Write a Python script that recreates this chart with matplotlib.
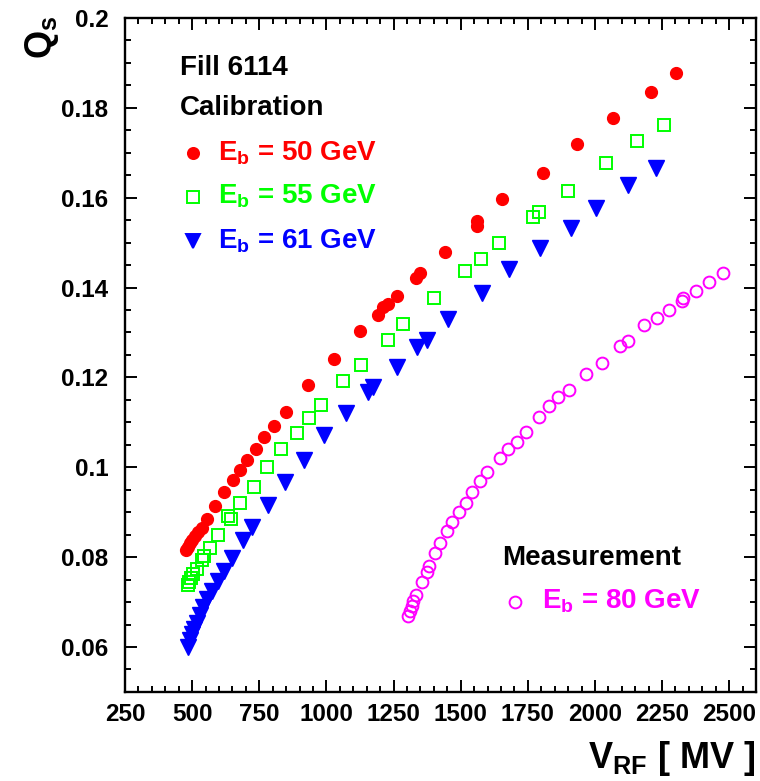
import numpy as np
import matplotlib
matplotlib.use("Agg")
import matplotlib.pyplot as plt
from matplotlib.ticker import MultipleLocator, FuncFormatter

# synchrotron tune Qs versus total RF voltage, fill 6114
v_50 = [477, 485, 492, 500, 511, 522, 537, 556, 585, 619, 652, 678, 705, 738, 768,
        805, 850, 932, 1029, 1126, 1193, 1211, 1230, 1263, 1334, 1349, 1442, 1561,
        1561, 1655, 1807, 1934, 2068, 2210, 2303]
qs_50 = [0.0816, 0.0822, 0.0831, 0.0838, 0.0847, 0.0856, 0.0864, 0.0884, 0.0913,
         0.0944, 0.0971, 0.0993, 0.1016, 0.1040, 0.1067, 0.1091, 0.1122, 0.1184,
         0.1242, 0.1304, 0.1340, 0.1356, 0.1364, 0.1382, 0.1422, 0.1433, 0.1480,
         0.1538, 0.1549, 0.1598, 0.1656, 0.1720, 0.1778, 0.1836, 0.1878]

v_55 = [485, 488, 496, 503, 518, 537, 544, 567, 597, 634, 645, 678, 731, 779, 831,
        891, 936, 980, 1062, 1129, 1230, 1286, 1401, 1517, 1576, 1643, 1770, 1792,
        1900, 2042, 2158, 2258]
qs_55 = [0.0738, 0.0744, 0.0753, 0.0762, 0.0773, 0.0793, 0.0802, 0.0820, 0.0849,
         0.0891, 0.0884, 0.0920, 0.0956, 0.1000, 0.1040, 0.1076, 0.1109, 0.1138,
         0.1191, 0.1227, 0.1284, 0.1318, 0.1376, 0.1436, 0.1464, 0.1500, 0.1558,
         0.1569, 0.1616, 0.1678, 0.1727, 0.1762]

v_61 = [485, 492, 500, 507, 518, 529, 541, 556, 574, 597, 619, 649, 690, 723, 783,
        846, 917, 991, 1073, 1155, 1174, 1263, 1338, 1375, 1453, 1580, 1681, 1796,
        1912, 2005, 2124, 2228]
qs_61 = [0.0600, 0.0616, 0.0629, 0.0640, 0.0653, 0.0671, 0.0689, 0.0707, 0.0724,
         0.0747, 0.0769, 0.0798, 0.0838, 0.0867, 0.0916, 0.0967, 0.1016, 0.1071,
         0.1120, 0.1167, 0.1178, 0.1224, 0.1267, 0.1284, 0.1329, 0.1389, 0.1442,
         0.1489, 0.1533, 0.1578, 0.1629, 0.1667]

v_80 = [1304, 1312, 1319, 1323, 1334, 1357, 1375, 1383, 1405, 1424, 1450, 1468,
        1494, 1520, 1543, 1573, 1599, 1647, 1677, 1711, 1744, 1793, 1830, 1863,
        1904, 1968, 2027, 2094, 2124, 2184, 2232, 2277, 2325, 2329, 2377, 2426, 2478]
qs_80 = [0.0669, 0.0680, 0.0691, 0.0702, 0.0716, 0.0744, 0.0767, 0.0780, 0.0809,
         0.0831, 0.0858, 0.0878, 0.0900, 0.0920, 0.0944, 0.0969, 0.0989, 0.1020,
         0.1040, 0.1056, 0.1078, 0.1113, 0.1136, 0.1156, 0.1171, 0.1207, 0.1233,
         0.1269, 0.1282, 0.1316, 0.1333, 0.1351, 0.1369, 0.1376, 0.1393, 0.1413,
         0.1433]

plt.rcParams['font.family'] = 'Liberation Sans'
plt.rcParams['font.weight'] = 'bold'
plt.rcParams['mathtext.fontset'] = 'custom'
plt.rcParams['mathtext.rm'] = 'Liberation Sans:bold'
plt.rcParams['mathtext.it'] = 'Liberation Sans:bold'
plt.rcParams['mathtext.bf'] = 'Liberation Sans:bold'

fig = plt.figure(figsize=(7.6, 7.81), dpi=100)
ax = fig.add_axes([0.1645, 0.114, 0.8303, 0.863])

ax.plot(v_50, qs_50, 'o', color='#ff0000', ms=8.5, mec='#ff0000', ls='none')
ax.plot(v_55, qs_55, 's', mfc='none', mec='#00ff00', ms=8, mew=1.4, ls='none')
ax.plot(v_61, qs_61, 'v', color='#0000ff', ms=11, ls='none')
ax.plot(v_80, qs_80, 'o', mfc='none', mec='#ff00ff', ms=8.5, mew=1.4, ls='none')

ax.set_xlim(250, 2600)
ax.set_ylim(0.05, 0.2)
ax.xaxis.set_major_locator(MultipleLocator(250))
ax.xaxis.set_minor_locator(MultipleLocator(50))
ax.yaxis.set_major_locator(MultipleLocator(0.02))
ax.yaxis.set_minor_locator(MultipleLocator(0.005))
ax.xaxis.set_major_formatter(FuncFormatter(lambda v, p: '%d' % round(v) if v <= 2500 else ''))
ax.yaxis.set_major_formatter(FuncFormatter(lambda v, p: '%g' % round(v, 3) if v > 0.055 else ''))

ax.tick_params(which='both', direction='in', top=True, right=True, width=1.4)
ax.tick_params(which='major', length=8.6, labelsize=17.5)
ax.tick_params(which='minor', length=4.3)
ax.tick_params(axis='x', pad=8)
ax.tick_params(axis='y', pad=12)
for s in ax.spines.values():
    s.set_linewidth(1.7)

fs = 20
ax.text(0.087, 0.926, 'Fill 6114', transform=ax.transAxes, fontsize=fs, va='center')
ax.text(0.087, 0.866, 'Calibration', transform=ax.transAxes, fontsize=fs, va='center')

rows = [(0.800, 'o', '#ff0000', True, '50'),
        (0.735, 's', '#00ff00', False, '55'),
        (0.669, 'v', '#0000ff', True, '61')]
for y, m, c, filled, e in rows:
    ax.plot([0.108], [y], m, transform=ax.transAxes, clip_on=False,
            mfc=c if filled else 'none', mec=c, ms=8 if m != 'v' else 9.5, mew=1.4)
    ax.text(0.147, y, r'$\mathrm{E_b}$ = %s GeV' % e, transform=ax.transAxes,
            fontsize=fs, color=c, va='center')

ax.text(0.597, 0.199, 'Measurement', transform=ax.transAxes, fontsize=fs, va='center')
ax.plot([0.618], [0.134], 'o', transform=ax.transAxes, clip_on=False,
        mfc='none', mec='#ff00ff', ms=8.5, mew=1.4)
ax.text(0.661, 0.134, r'$\mathrm{E_b}$ = 80 GeV', transform=ax.transAxes,
        fontsize=fs, color='#ff00ff', va='center')

fig.text(755 / 760, 1 - 768 / 781, r'$\mathrm{V_{RF}}$ [ MV ]', fontsize=26,
         ha='right', va='baseline')
fig.text(42 / 760, 1 - 16 / 781, r'$\mathrm{Q_s}$', fontsize=26, rotation=90,
         ha='center', va='top')

fig.savefig('out.png', dpi=100)
